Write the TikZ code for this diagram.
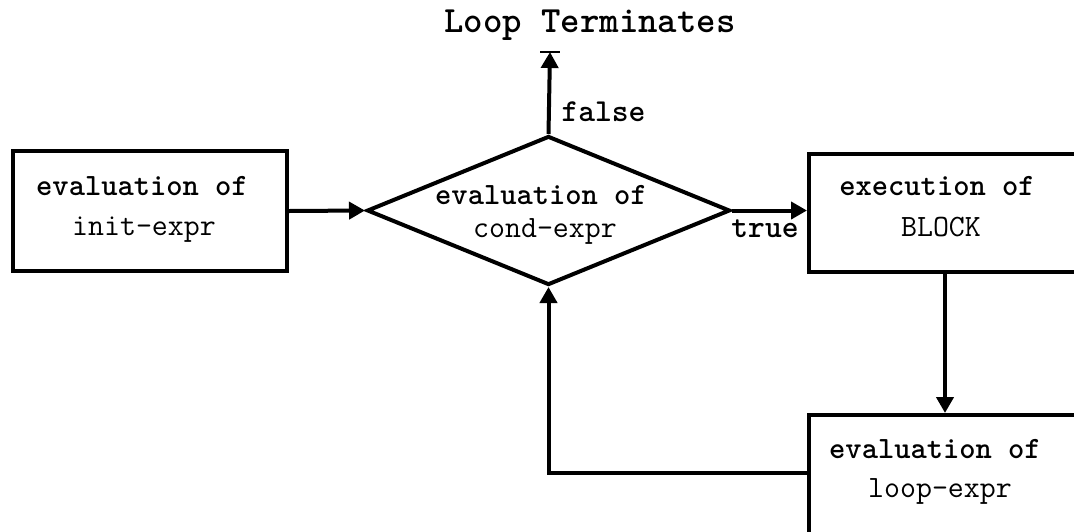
\documentclass[tikz,border=0pt]{standalone}
\usepackage{fontspec}
\usetikzlibrary{arrows.meta,shapes.geometric}
\begin{document}
\begin{tikzpicture}[x=1pt,y=-1pt,line width=4pt,
  box/.style={draw,rectangle,inner sep=0pt,line width=4pt},
  lbl/.style={font=\ttfamily\bfseries\fontsize{31}{34}\selectfont,anchor=base,inner sep=0pt},
  code/.style={font=\ttfamily\fontsize{31}{34}\selectfont,anchor=base,inner sep=0pt},
  edgelbl/.style={font=\ttfamily\bfseries\fontsize{32}{34}\selectfont,anchor=base,inner sep=0pt},
  flow/.style={-{Triangle[length=16pt,width=17pt]},line width=4pt}]
\useasboundingbox (0,0) rectangle (1074,531);
\clip (0,0) rectangle (1074,531);

% boxes
\node[box,minimum width=274pt,minimum height=120pt] (init) at (150,211) {};
\node[lbl] (initA) at (142,195) {evaluation of};
\node[code] (initB) at (144,235) {init-expr};

\node[draw,diamond,inner sep=0pt,line width=4pt,minimum width=363pt,minimum height=149pt] (cond) at (548.5,210.5) {};
\node[lbl] (condA) at (541,204) {evaluation of};
\node[code] (condB) at (545,237) {cond-expr};

\node[box,anchor=north west,minimum width=400pt,minimum height=118pt] (exec) at (807,152) {};
\node[lbl] (execA) at (937,195) {execution of};
\node[code] (execB) at (941,236) {BLOCK};

\node[box,anchor=north west,minimum width=400pt,minimum height=300pt] (loop) at (807,413) {};
\node[lbl] (loopA) at (935,458) {evaluation of};
\node[code] (loopB) at (940,497) {loop-expr};

% termination
\node[font=\ttfamily\bfseries\fontsize{37}{40}\selectfont,anchor=base,inner sep=0pt] (term) at (590,32) {Loop Terminates};
\coordinate (stop) at (550,52);
\draw[line width=2pt] ([xshift=-10pt]stop) -- ([xshift=10pt]stop);
\draw[flow] (cond.north) -- (stop);
\node[edgelbl] (false) at (603.5,121) {false};

% connectors
\draw[flow] (init.east) -- (cond.west);
\draw[flow] (cond.east) -- (cond.east -| exec.west);
\node[edgelbl] (true) at (765,237) {true};

\coordinate (col) at (945,0);
\draw[flow] (col |- exec.south) -- (col |- loop.north);

\coordinate (back) at (0,473);
\draw[flow] (loop.west |- back) -| (cond.south);
\end{tikzpicture}
\end{document}
